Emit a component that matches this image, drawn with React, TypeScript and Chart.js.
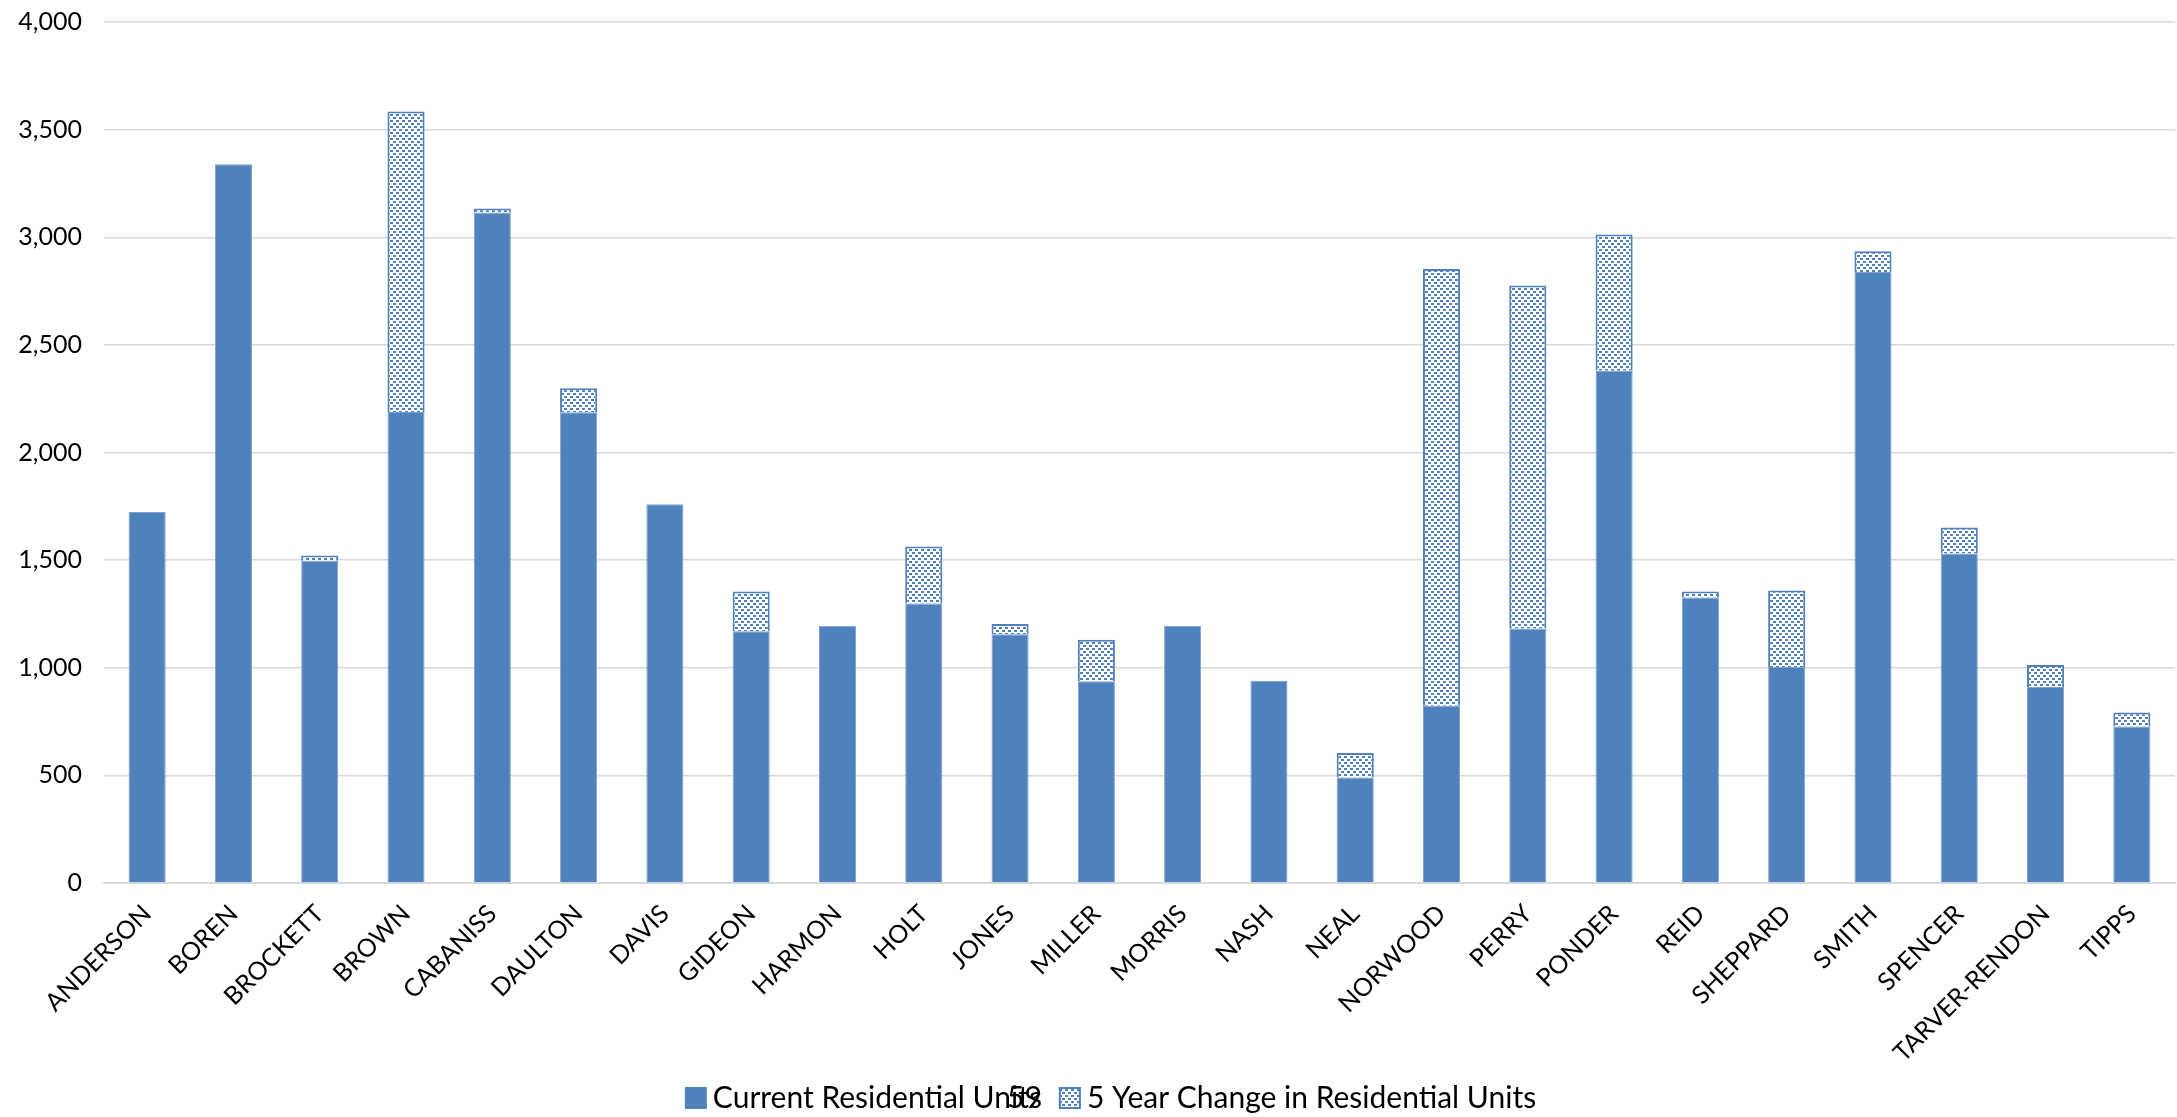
import React, { useEffect, useRef } from "react";
import { Chart, registerables } from "chart.js";

Chart.register(...registerables);

const categories = [
  "ANDERSON", "BOREN", "BROCKETT", "BROWN", "CABANISS", "DAULTON", "DAVIS", "GIDEON",
  "HARMON", "HOLT", "JONES", "MILLER", "MORRIS", "NASH", "NEAL", "NORWOOD",
  "PERRY", "PONDER", "REID", "SHEPPARD", "SMITH", "SPENCER", "TARVER-RENDON", "TIPPS",
];

const currentUnits = [
  1724, 3339, 1497, 2188, 3115, 2187, 1760, 1169,
  1195, 1299, 1156, 937, 1195, 940, 490, 823,
  1182, 2380, 1326, 1003, 2839, 1531, 911, 727,
];

const fiveYearChange: (number | null)[] = [
  null, null, 24, 1396, 18, 112, null, 185,
  null, 264, 47, 193, null, null, 114, 2029,
  1594, 633, 28, 356, 96, 120, 102, 65,
];

const seriesLabels = ["Current Residential Units", "5 Year Change in Residential Units"];
const legendOverlapText = "59";

const yMin = 0;
const yMax = 4000;
const yStep = 500;

const BLUE = "#4F81BD";
const FONT = "Lato";

function makePattern(): CanvasPattern | string {
  const c = document.createElement("canvas");
  c.width = 6;
  c.height = 6;
  const g = c.getContext("2d");
  if (!g) return "#ffffff";
  g.fillStyle = "#ffffff";
  g.fillRect(0, 0, 6, 6);
  g.fillStyle = BLUE;
  g.fillRect(0, 0, 3, 2);
  g.fillRect(3, 3, 3, 2);
  const p = g.createPattern(c, "repeat");
  return p || "#ffffff";
}

export default function App() {
  const ref = useRef<HTMLCanvasElement | null>(null);

  useEffect(() => {
    const canvas = ref.current;
    if (!canvas) return;
    const pattern = makePattern();

    const legendPlugin = {
      id: "customLegend",
      afterDraw(chart: any) {
        const ctx = chart.ctx as CanvasRenderingContext2D;
        ctx.save();
        const fs = 30;
        ctx.font = `${fs}px ${FONT}`;
        ctx.textBaseline = "middle";
        const box = 22;
        const gapText = 6;
        const gapItem = 17;
        const w1 = ctx.measureText(seriesLabels[0]).width;
        const w2 = ctx.measureText(seriesLabels[1]).width;
        const total = box + gapText + w1 + gapItem + box + gapText + w2;
        const cx = chart.width / 2 + 22;
        let x = cx - total / 2;
        const yc = chart.height - 19;
        ctx.fillStyle = BLUE;
        ctx.fillRect(x, yc - box / 2, box, box);
        x += box + gapText;
        ctx.fillStyle = "#000000";
        ctx.textAlign = "left";
        ctx.fillText(seriesLabels[0], x, yc);
        x += w1;
        ctx.textAlign = "right";
        ctx.fillText(legendOverlapText, x, yc);
        x += gapItem;
        ctx.fillStyle = pattern as any;
        ctx.fillRect(x, yc - box / 2, box, box);
        ctx.strokeStyle = BLUE;
        ctx.lineWidth = 2;
        ctx.strokeRect(x + 1, yc - box / 2 + 1, box - 2, box - 2);
        x += box + gapText;
        ctx.fillStyle = "#000000";
        ctx.textAlign = "left";
        ctx.fillText(seriesLabels[1], x, yc);
        ctx.restore();
      },
    };

    const chart = new Chart(canvas, {
      type: "bar",
      data: {
        labels: categories,
        datasets: [
          {
            label: seriesLabels[0],
            data: currentUnits,
            backgroundColor: BLUE,
            borderColor: "#7F9FCF",
            borderWidth: 1,
            categoryPercentage: 1,
            barPercentage: 0.43,
          },
          {
            label: seriesLabels[1],
            data: fiveYearChange as any,
            backgroundColor: pattern as any,
            borderColor: BLUE,
            borderWidth: 2,
            categoryPercentage: 1,
            barPercentage: 0.43,
          },
        ],
      },
      options: {
        responsive: false,
        animation: false,
        layout: { padding: { top: 22, left: 0, right: 2, bottom: 40 } },
        plugins: {
          legend: { display: false },
          tooltip: { enabled: false },
        },
        scales: {
          x: {
            stacked: true,
            grid: { display: false },
            border: { display: true, color: "#D9D9D9", width: 2 },
            ticks: {
              autoSkip: false,
              maxRotation: 45,
              minRotation: 45,
              padding: 8,
              color: "#000000",
              font: { family: FONT, size: 25 },
            },
            afterFit(scale: any) {
              scale.height = 194;
            },
          },
          y: {
            stacked: true,
            min: yMin,
            max: yMax,
            ticks: {
              stepSize: yStep,
              padding: 22,
              color: "#000000",
              font: { family: FONT, size: 25 },
            },
            grid: { color: "#D9D9D9", lineWidth: 1.5, drawTicks: false },
            border: { display: false },
            afterFit(scale: any) {
              scale.width = 104;
              scale.paddingTop = 15;
              scale.paddingBottom = 15;
            },
          },
        },
      },
      plugins: [legendPlugin],
    });

    return () => chart.destroy();
  }, []);

  return (
    <div style={{ position: "fixed", left: 0, top: 0, width: 2177, height: 1117, background: "#fff" }}>
      <canvas ref={ref} width={2177} height={1117} style={{ display: "block" }} />
    </div>
  );
}
